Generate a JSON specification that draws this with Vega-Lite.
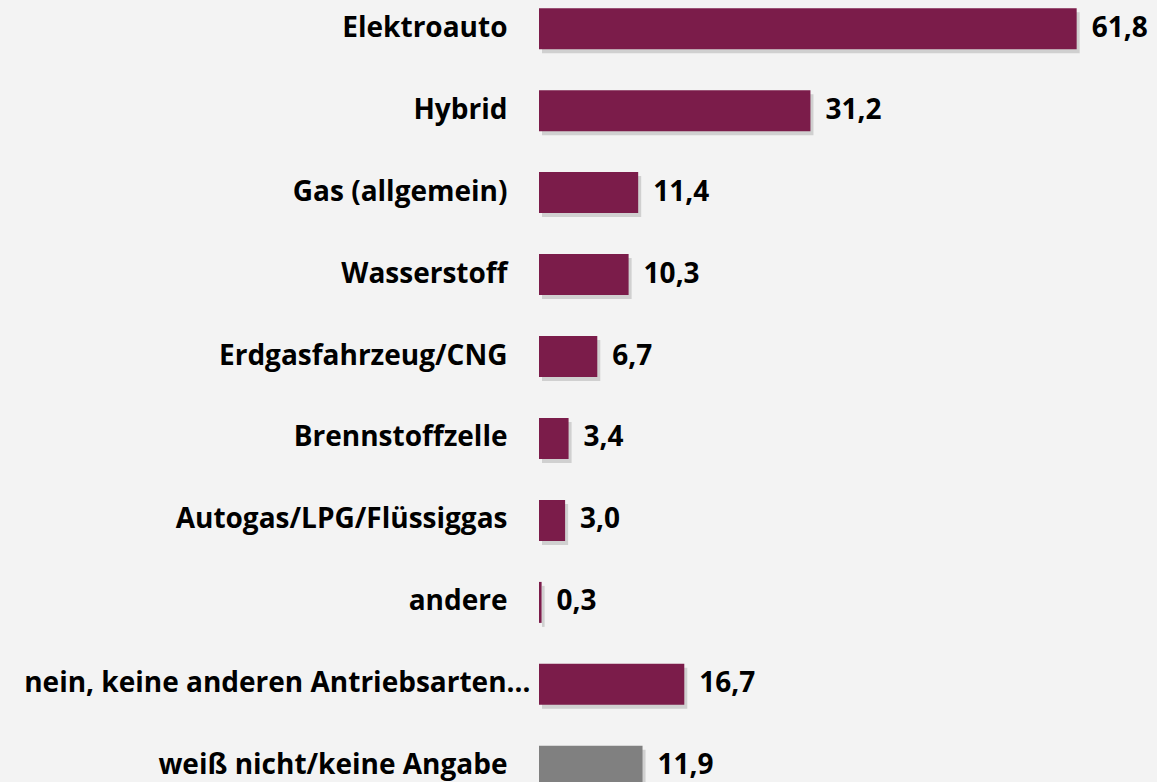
{
  "$schema": "https://vega.github.io/schema/vega-lite/v6.json",
  "autosize": {"type": "none"},
  "padding": {"left": 539, "top": 0, "right": 9, "bottom": 0},
  "width": 609,
  "height": 795,
  "background": "#f3f3f3",
  "config": {"view": {"stroke": null}, "font": "Open Sans"},
  "data": {
    "values": [
      {"kategorie": "Elektroauto", "wert": 61.8, "label": "61,8", "gruppe": "a"},
      {"kategorie": "Hybrid", "wert": 31.2, "label": "31,2", "gruppe": "a"},
      {"kategorie": "Gas (allgemein)", "wert": 11.4, "label": "11,4", "gruppe": "a"},
      {"kategorie": "Wasserstoff", "wert": 10.3, "label": "10,3", "gruppe": "a"},
      {"kategorie": "Erdgasfahrzeug/CNG", "wert": 6.7, "label": "6,7", "gruppe": "a"},
      {"kategorie": "Brennstoffzelle", "wert": 3.4, "label": "3,4", "gruppe": "a"},
      {"kategorie": "Autogas/LPG/Flüssiggas", "wert": 3.0, "label": "3,0", "gruppe": "a"},
      {"kategorie": "andere", "wert": 0.3, "label": "0,3", "gruppe": "a"},
      {"kategorie": "nein, keine anderen Antriebsarten…", "wert": 16.7, "label": "16,7", "gruppe": "a"},
      {"kategorie": "weiß nicht/keine Angabe", "wert": 11.9, "label": "11,9", "gruppe": "b"}
    ]
  },
  "encoding": {
    "y": {
      "field": "kategorie",
      "type": "nominal",
      "sort": null,
      "scale": {"paddingInner": 0.5, "paddingOuter": 0.1},
      "axis": {
        "title": null,
        "domain": false,
        "ticks": false,
        "labelPadding": {"condition": {"test": "indexof(datum.value, 'nein') === 0", "value": 9}, "value": 32},
        "labelLimit": 0,
        "labelFont": "Open Sans",
        "labelFontWeight": "bold",
        "labelFontSize": 28,
        "labelColor": "#000000"
      }
    },
    "x": {
      "field": "wert",
      "type": "quantitative",
      "scale": {"domain": [0, 70]},
      "axis": null
    }
  },
  "layer": [
    {
      "mark": {"type": "bar", "color": "#9a9a9a", "opacity": 0.4, "xOffset": 3, "yOffset": 4}
    },
    {
      "mark": {"type": "bar"},
      "encoding": {
        "color": {
          "field": "gruppe",
          "type": "nominal",
          "scale": {"domain": ["a", "b"], "range": ["#7b1c4a", "#808080"]},
          "legend": null
        }
      }
    },
    {
      "mark": {"type": "text", "align": "left", "baseline": "middle", "dx": 15, "fontWeight": "bold", "fontSize": 28, "font": "Open Sans", "color": "#000000"},
      "encoding": {"text": {"field": "label"}}
    }
  ]
}
